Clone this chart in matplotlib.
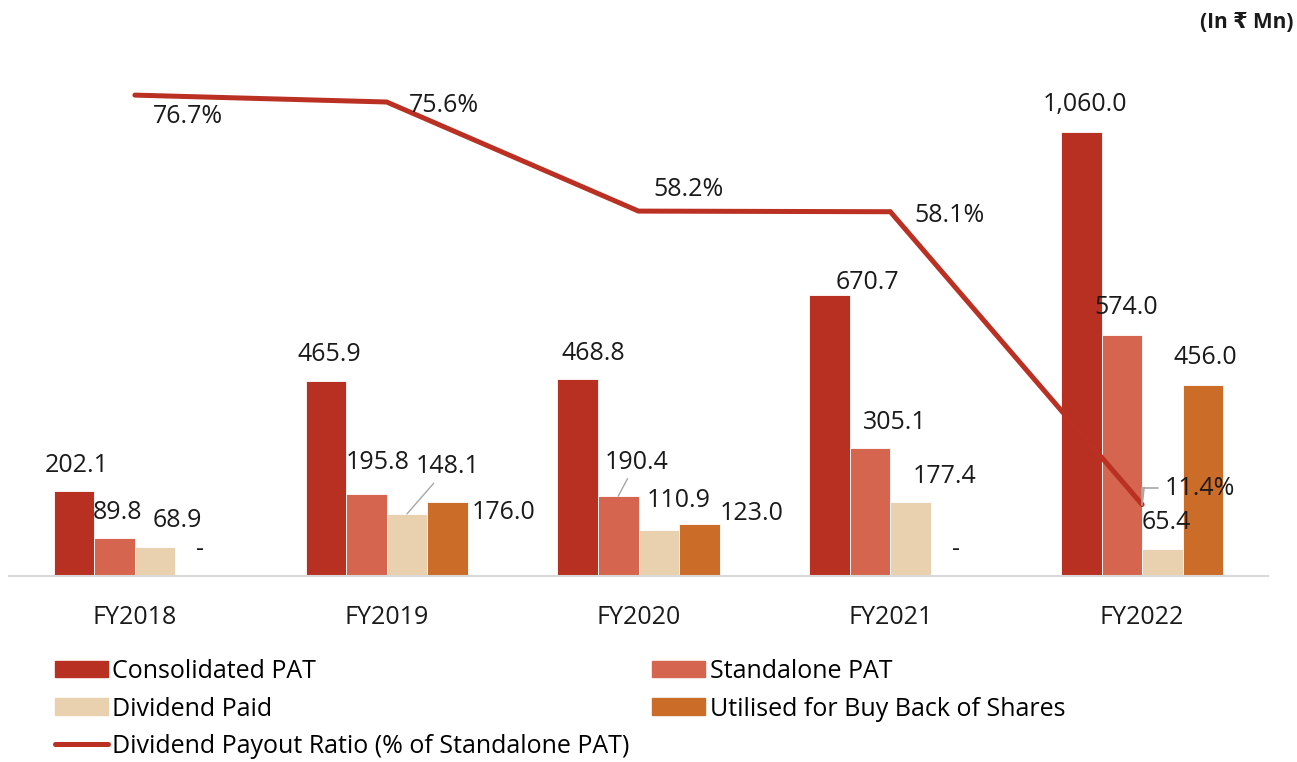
import matplotlib
matplotlib.use("Agg")
import matplotlib.pyplot as plt
import numpy as np
from matplotlib.patches import Patch
from matplotlib.lines import Line2D

plt.rcParams['font.family'] = ['Open Sans', 'DejaVu Sans']

years = ["FY2018", "FY2019", "FY2020", "FY2021", "FY2022"]
consolidated_pat = [202.1, 465.9, 468.8, 670.7, 1060.0]
standalone_pat = [89.8, 195.8, 190.4, 305.1, 574.0]
dividend_paid = [68.9, 148.1, 110.9, 177.4, 65.4]
buyback = [0.0, 176.0, 123.0, 0.0, 456.0]
payout_ratio = [76.7, 75.6, 58.2, 58.1, 11.4]

series_names = ["Consolidated PAT", "Standalone PAT", "Dividend Paid", "Utilised for Buy Back of Shares"]
colors = ["#B83022", "#D5654E", "#E9D1B0", "#CB6C28"]
line_color = "#BA3023"
line_name = "Dividend Payout Ratio (% of Standalone PAT)"

W, H = 1297, 762
fig = plt.figure(figsize=(W / 100, H / 100), dpi=100)
ax = fig.add_axes([9 / W, (H - 576) / H, 1259 / W, 516 / H])
ax2 = ax.twinx()

x = np.arange(len(years))
bw = 0.161
fs = 18
series = [consolidated_pat, standalone_pat, dividend_paid, buyback]
bars = []
for k, (vals, c) in enumerate(zip(series, colors)):
    b = ax.bar(x + (k - 1.5) * bw, vals, bw, color=c, edgecolor="white", linewidth=0.6, zorder=2)
    bars.append(b)

ax.set_xlim(-0.5, 4.5)
ax.set_ylim(0, 1231)
ax2.set_ylim(0, 82.3)
for a in (ax, ax2):
    for s in ["top", "right", "left"]:
        a.spines[s].set_visible(False)
    a.set_yticks([])
ax2.spines["bottom"].set_visible(False)
ax.spines["bottom"].set_color("#D9D9D9")
ax.spines["bottom"].set_linewidth(1.5)
ax.set_xticks(x)
ax.set_xticklabels(years, fontsize=fs, color="#1a1a1a")
ax.tick_params(axis="x", length=0, pad=21)

# bar value label offsets (pixels) per series per year
offsets = [
    [(3, 26), (3, 26), (16, 26), (38, 12), (4, 27)],
    [(3, 26), (11, 31), (18, 34), (25, 26), (4, 28)],
    [(22, 27), (41, 47), (20, 29), (34, 25), (4, 26)],
    [(4, 27), (56, -10), (52, 11), (5, 26), (2, 27)],
]
leaders = {(2, 1), (1, 2)}
for k, b in enumerate(bars):
    for i, rect in enumerate(b):
        v = series[k][i]
        txt = "-" if v == 0 else f"{v:,.1f}"
        cx = rect.get_x() + rect.get_width() / 2
        dx, dy = offsets[k][i]
        if (k, i) in leaders:
            ax.annotate(txt, xy=(cx, v), xytext=(dx, dy), textcoords="offset pixels",
                        ha="center", va="center", fontsize=fs, color="#1a1a1a", zorder=5,
                        arrowprops=dict(arrowstyle="-", color="#A6A6A6", lw=1.0,
                                        shrinkA=1, shrinkB=0))
        else:
            ax.annotate(txt, xy=(cx, v), xytext=(dx, dy), textcoords="offset pixels",
                        ha="center", va="center", fontsize=fs, color="#1a1a1a", zorder=5)

ax2.plot(x, payout_ratio, color=line_color, lw=3.6, solid_capstyle="round",
         solid_joinstyle="miter", zorder=3)
line_offsets = [(53, -21), (57, -3), (50, 22), (59, -4), (58, 16)]
for i, v in enumerate(payout_ratio):
    dx, dy = line_offsets[i]
    ax2.annotate(f"{v:.1f}%", xy=(x[i], v), xytext=(dx, dy), textcoords="offset pixels",
                 ha="center", va="center", fontsize=fs, color="#1a1a1a", zorder=6)
# leader (bracket) for last point
ax2.annotate("", xy=(x[4], payout_ratio[4]), xytext=(16, 17), textcoords="offset pixels",
             arrowprops=dict(arrowstyle="-", color="#A6A6A6", lw=1.2,
                             connectionstyle="angle,angleA=0,angleB=90,rad=0",
                             shrinkA=0, shrinkB=0,
                             patchB=None), zorder=7)
ax2.annotate("", xy=(x[4], payout_ratio[4]), xytext=(2, 17), textcoords="offset pixels",
             arrowprops=dict(arrowstyle="-", color="#A6A6A6", lw=1.2,
                             connectionstyle="arc3", shrinkA=0, shrinkB=2), zorder=7)

handles = [
    Patch(color=colors[0], label=series_names[0]),
    Patch(color=colors[2], label=series_names[2]),
    Line2D([0], [0], color=line_color, lw=3.6, solid_capstyle="round", label=line_name),
    Patch(color=colors[1], label=series_names[1]),
    Patch(color=colors[3], label=series_names[3]),
]
leg = fig.legend(handles=handles, ncol=2, loc="upper left", bbox_to_anchor=(55 / W, 1 - 659 / H),
                 frameon=False, fontsize=18, handlelength=2.1, handleheight=0.64,
                 handletextpad=0.2, columnspacing=0.9, labelspacing=0.5,
                 borderpad=0, borderaxespad=0)

fig.text(1294 / W, 1 - 22 / H, "(In ₹ Mn)", ha="right", va="center", fontsize=15,
         fontweight="bold", color="#1a1a1a")

fig.savefig("out.png", dpi=100)
